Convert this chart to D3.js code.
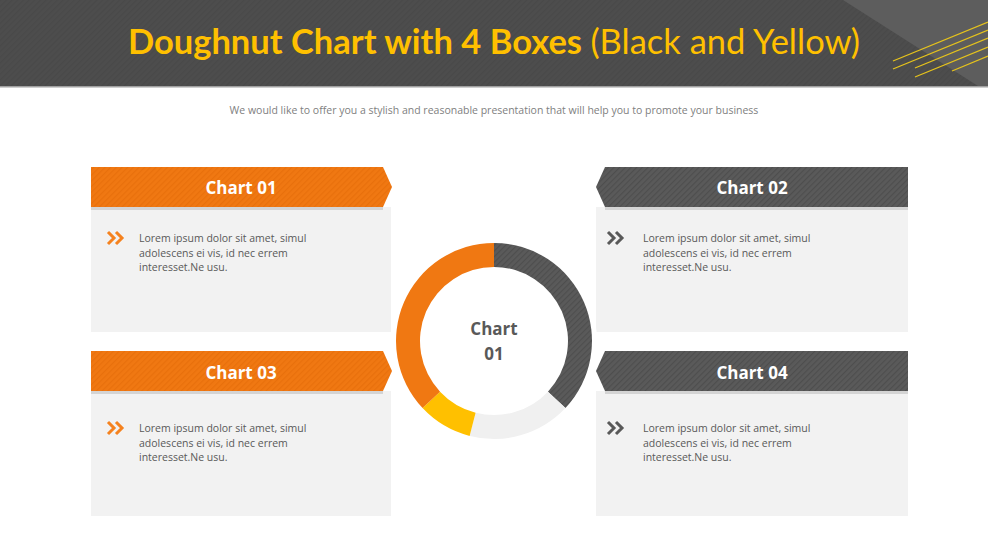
<!DOCTYPE html>
<html><head><meta charset="utf-8">
<script src="https://cdn.jsdelivr.net/npm/d3@7"></script>
<style>html,body{margin:0;padding:0;background:#fff;overflow:hidden}</style>
</head><body>
<svg id="c" width="988" height="556"></svg>
<script>
const titleBold = "Doughnut Chart with 4 Boxes";
const titleLight = "(Black and Yellow)";
const subtitle = "We would like to offer you a stylish and reasonable presentation that will help you to promote your business";
const boxTitles = ["Chart 01", "Chart 02", "Chart 03", "Chart 04"];
const boxText = ["Lorem ipsum dolor sit amet, simul", "adolescens ei vis, id nec errem", "interesset.Ne usu."];
const donutLabels = ["Dark", "Light", "Yellow", "Orange"];
const donutValues = [37, 17, 9, 37];
const donutCenter = ["Chart", "01"];

const ORANGE = "#f07812", DARK = "#595959", YELLOW = "#ffc000", LIGHT = "#f0f0f0";
const svg = d3.select("#c");
const defs = svg.append("defs");
function stripe(id, base, line) {
  const p = defs.append("pattern").attr("id", id).attr("width", 4).attr("height", 4)
    .attr("patternUnits", "userSpaceOnUse").attr("patternTransform", "rotate(45)");
  p.append("rect").attr("width", 4).attr("height", 4).attr("fill", base);
  p.append("rect").attr("width", 1.2).attr("height", 4).attr("fill", line);
}
stripe("pOr", ORANGE, "#e8700c");
stripe("pDk", "#5a5a5a", "#4e4e4e");
stripe("pHd", "#4d4d4d", "#494949");

// header band
svg.append("rect").attr("x", 0).attr("y", 0).attr("width", 988).attr("height", 86).attr("fill", "url(#pHd)");
svg.append("polygon").attr("points", "843,0 988,0 988,86 978,86").attr("fill", "#5d5d5d");
svg.append("rect").attr("x", 0).attr("y", 86).attr("width", 988).attr("height", 1.5).attr("fill", "#a0a0a0");
const yl = [[893,61,988,22],[893,69,988,30],[915,68,988,38],[915,77,988,47],[952,71,988,56]];
svg.selectAll("line.yl").data(yl).join("line").attr("class","yl")
  .attr("x1", d=>d[0]).attr("y1", d=>d[1]).attr("x2", d=>d[2]).attr("y2", d=>d[3])
  .attr("stroke", "#e6c31c").attr("stroke-width", 1.3);

const t = svg.append("text").attr("x", 494).attr("y", 54).attr("text-anchor", "middle")
  .attr("font-family", "Lato, 'Open Sans', sans-serif").attr("font-size", 34.5).attr("fill", YELLOW);
t.append("tspan").attr("font-weight", "bold").text(titleBold + " ");
t.append("tspan").attr("font-weight", "normal").text(titleLight);

svg.append("text").attr("x", 494).attr("y", 114).attr("text-anchor", "middle")
  .attr("font-family", "'Open Sans', sans-serif").attr("font-size", 10.5).attr("fill", "#808080").text(subtitle);

// boxes
const boxes = [
  {x: 91, y: 167, w: 300, side: "L", fill: "url(#pOr)", chev: "#f5821f", off: 0},
  {x: 596, y: 167, w: 312, side: "R", fill: "url(#pDk)", chev: DARK, off: 0},
  {x: 91, y: 351, w: 300, side: "L", fill: "url(#pOr)", chev: "#f5821f", off: 6},
  {x: 596, y: 351, w: 312, side: "R", fill: "url(#pDk)", chev: DARK, off: 6}
];
const HH = 40, BH = 165;
boxes.forEach((b, i) => {
  const g = svg.append("g");
  g.append("rect").attr("x", b.x).attr("y", b.y + HH).attr("width", b.w).attr("height", BH - HH).attr("fill", "#f2f2f2");
  let pts, shadow;
  if (b.side === "L") {
    const r = b.x + b.w - 8;
    pts = [[b.x, b.y], [r, b.y], [b.x + b.w + 1, b.y + HH / 2], [r, b.y + HH], [b.x, b.y + HH]];
    shadow = [b.x, r];
  } else {
    const l = b.x + 9;
    pts = [[b.x, b.y + HH / 2], [l, b.y], [b.x + b.w, b.y], [b.x + b.w, b.y + HH], [l, b.y + HH]];
    shadow = [l, b.x + b.w];
  }
  g.append("rect").attr("x", shadow[0]).attr("y", b.y + HH).attr("width", shadow[1] - shadow[0]).attr("height", 3).attr("fill", "#d4d4d4");
  g.append("polygon").attr("points", pts.map(p => p.join(",")).join(" ")).attr("fill", b.fill);
  const cx = b.side === "L" ? b.x + 150 : b.x + 156;
  g.append("text").attr("x", cx).attr("y", b.y + 27 + (b.off ? 1 : 0)).attr("text-anchor", "middle")
    .attr("font-family", "'Open Sans', sans-serif").attr("font-weight", "bold").attr("font-size", 17)
    .attr("fill", "#fff").text(boxTitles[i]);
  const chx = b.side === "L" ? b.x + 17 : b.x + 12;
  const chy = b.y + 71 + b.off;
  [0, 8].forEach(o => {
    g.append("path").attr("d", `M${chx + o},${chy - 6} L${chx + o + 6},${chy} L${chx + o},${chy + 6}`)
      .attr("fill", "none").attr("stroke", b.chev).attr("stroke-width", 3);
  });
  const tx = b.side === "L" ? b.x + 48 : b.x + 47;
  boxText.forEach((s, k) => {
    g.append("text").attr("x", tx).attr("y", b.y + 75 + b.off + k * 14.5)
      .attr("font-family", "'Open Sans', sans-serif").attr("font-size", 10.5).attr("fill", "#595959").text(s);
  });
});

// doughnut
const cx = 494, cy = 341;
const pie = d3.pie().sort(null).value(d => d)(donutValues);
const arc = d3.arc().innerRadius(74).outerRadius(98);
const colors = ["url(#pDk)", LIGHT, YELLOW, ORANGE];
const dg = svg.append("g").attr("transform", `translate(${cx},${cy})`);
dg.append("circle").attr("r", 103).attr("fill", "#fff");
dg.selectAll("path").data(pie).join("path").attr("d", arc).attr("fill", (d, i) => colors[i]);
donutCenter.forEach((s, k) => {
  dg.append("text").attr("x", 0).attr("y", -6 + k * 25).attr("text-anchor", "middle")
    .attr("font-family", "'Open Sans', sans-serif").attr("font-weight", "bold").attr("font-size", 17)
    .attr("fill", "#595959").text(s);
});
</script>
</body></html>
